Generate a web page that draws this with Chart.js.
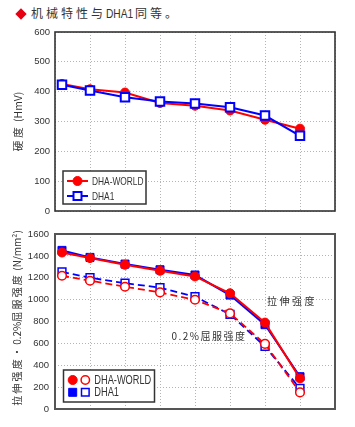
<!DOCTYPE html>
<html><head><meta charset="utf-8">
<script src="https://cdn.jsdelivr.net/npm/chart.js@4"></script>
<style>
body{margin:0;background:#fff;width:355px;height:427px;overflow:hidden;position:relative;font-family:"Noto Sans CJK SC",sans-serif}
#title{position:absolute;left:31px;top:5px;font-size:12px;color:#333;white-space:nowrap;line-height:16px}
#title .cjk{letter-spacing:3px}
#title .lat{font-family:"Liberation Sans",sans-serif;font-size:12px;display:inline-block;transform:scaleX(0.85);transform-origin:left center;margin-right:-3px}
#diamond{position:absolute;left:16.5px;top:9.5px;width:8px;height:8px;background:#e60012;transform:rotate(45deg)}
canvas{position:absolute;left:0}
</style></head>
<body>
<div id="diamond"></div>
<div id="title"><span class="cjk">机械特性与</span><span class="lat">DHA1</span><span class="cjk">同等。</span></div>
<canvas id="c1" width="355" height="222" style="top:0"></canvas>
<canvas id="c2" width="355" height="205" style="top:222px"></canvas>
<script>
// ---- data ----
const samplePositions = [0.2, 1, 2, 3, 4, 5, 6, 7];
const hardnessTicks = [0, 100, 200, 300, 400, 500, 600];
const strengthTicks = [0, 200, 400, 600, 800, 1000, 1200, 1400, 1600];
const seriesNames = ['DHA-WORLD', 'DHA1'];
const hardnessWorld = [426, 408, 397, 362, 353, 337, 306, 276];
const hardnessDha1 = [423, 404, 381, 367, 360, 348, 320, 252];
const tensileWorld = [1431, 1380, 1319, 1264, 1212, 1058, 790, 280];
const tensileDha1 = [1450, 1386, 1325, 1273, 1225, 1042, 771, 295];
const yieldWorld = [1218, 1173, 1118, 1066, 999, 874, 595, 152];
const yieldDha1 = [1254, 1200, 1150, 1110, 1027, 866, 572, 188];
const hardnessAxisTitle = [['硬度', 3], [' (HmV)', 0]];
const strengthAxisTitle = [['拉伸强度・', 2.2], ['0.2%', 0], ['屈服强度', 2.2], [' (N/mm²)', 0]];
const tensileNote = '拉伸强度';
const yieldNote = '0.2%屈服强度';

const RED = '#ff0000', BLUE = '#0000ff';
const CJK = '"Noto Sans CJK SC", sans-serif';
const LAT = '"Liberation Sans", Arial, sans-serif';

function pts(vals) { return vals.map((v, i) => ({ x: samplePositions[i], y: v })); }

function drawSegments(ctx, segs, cx, cy, rotate, size) {
  ctx.save();
  ctx.translate(cx, cy);
  if (rotate) ctx.rotate(-Math.PI / 2);
  ctx.font = size + 'px ' + CJK;
  const widths = segs.map(s => { ctx.letterSpacing = s[1] + 'px'; return ctx.measureText(s[0]).width; });
  const total = widths.reduce((a, b) => a + b, 0);
  let x = -total / 2;
  ctx.textBaseline = 'middle'; ctx.textAlign = 'left'; ctx.fillStyle = '#333';
  segs.forEach((s, i) => { ctx.letterSpacing = s[1] + 'px'; ctx.fillText(s[0], x, 0); x += widths[i]; });
  ctx.restore();
}

function narrowText(ctx, text, x, y, size, sx) {
  ctx.save();
  ctx.translate(x, y);
  ctx.scale(sx, 1);
  ctx.fillStyle = '#333'; ctx.font = size + 'px ' + LAT; ctx.textBaseline = 'middle'; ctx.textAlign = 'left';
  ctx.fillText(text, 0, 0);
  ctx.restore();
}

function marker(ctx, style, x, y, r, fill, stroke, lw) {
  ctx.save();
  ctx.beginPath();
  if (style === 'circle') ctx.arc(x, y, r, 0, Math.PI * 2);
  else ctx.rect(x - r, y - r, 2 * r, 2 * r);
  ctx.fillStyle = fill; ctx.fill();
  ctx.lineWidth = lw; ctx.strokeStyle = stroke; ctx.stroke();
  ctx.restore();
}

function yScale(ticksArr, pad, size) {
  return {
    min: ticksArr[0], max: ticksArr[ticksArr.length - 1],
    afterBuildTicks: s => { s.ticks = ticksArr.map(v => ({ value: v })); },
    afterFit: s => { s.width = 55; },
    grid: { color: '#b4b4b4', lineWidth: 1, drawTicks: false },
    border: { display: false, dash: [1, 2] },
    ticks: { padding: pad, color: '#333', font: { family: LAT, size: size }, callback: v => String(v) }
  };
}
const xScale = {
  type: 'linear', min: 0, max: 8,
  ticks: { display: false, stepSize: 1 },
  afterFit: s => { s.height = 0; },
  grid: { color: '#b4b4b4', lineWidth: 1, drawTicks: false },
  border: { display: false, dash: [1, 2] }
};

// ---- top chart: hardness ----
new Chart(document.getElementById('c1'), {
  type: 'line',
  data: { datasets: [
    { label: seriesNames[1], data: pts(hardnessDha1), borderColor: BLUE, borderWidth: 2,
      pointStyle: 'rect', pointRadius: 6, pointBackgroundColor: '#fff', pointBorderColor: BLUE, pointBorderWidth: 2 },
    { label: seriesNames[0], data: pts(hardnessWorld), borderColor: RED, borderWidth: 2,
      pointStyle: 'circle', pointRadius: 4.5, pointBackgroundColor: RED, pointBorderColor: RED, pointBorderWidth: 1 }
  ] },
  options: {
    responsive: false, animation: false,
    layout: { padding: { left: 0, right: 20, top: 32, bottom: 11 } },
    plugins: { legend: { display: false }, tooltip: { enabled: false } },
    scales: { x: xScale, y: yScale(hardnessTicks, 5, 9.5) }
  },
  plugins: [{
    id: 'deco1',
    afterDraw(chart) {
      const ctx = chart.ctx, a = chart.chartArea;
      ctx.save();
      ctx.lineWidth = 1.6; ctx.strokeStyle = '#333';
      ctx.strokeRect(a.left, a.top, a.right - a.left, a.bottom - a.top);
      // legend
      ctx.fillStyle = '#fff'; ctx.fillRect(63, 171, 83, 33);
      ctx.lineWidth = 1.5; ctx.strokeStyle = '#333'; ctx.strokeRect(63, 171, 83, 33);
      const rows = [[seriesNames[0], RED, 'circle', 181], [seriesNames[1], BLUE, 'rect', 196]];
      rows.forEach(r => {
        ctx.beginPath(); ctx.moveTo(67, r[3]); ctx.lineTo(88, r[3]);
        ctx.lineWidth = 2; ctx.strokeStyle = r[1]; ctx.stroke();
        if (r[2] === 'circle') marker(ctx, 'circle', 77.5, r[3], 4.5, RED, RED, 1);
        else marker(ctx, 'rect', 77.5, r[3], 4, '#fff', BLUE, 2);
        narrowText(ctx, r[0], 92, r[3] + 0.5, 11, 0.76);
      });
      ctx.restore();
      drawSegments(ctx, hardnessAxisTitle, 18, (a.top + a.bottom) / 2, true, 10.5);
    }
  }]
});

// ---- bottom chart: strength ----
new Chart(document.getElementById('c2'), {
  type: 'line',
  data: { datasets: [
    { label: seriesNames[0] + ' tensile', data: pts(tensileWorld), borderColor: RED, borderWidth: 2,
      pointStyle: 'circle', pointRadius: 4.5, pointBackgroundColor: RED, pointBorderColor: RED, pointBorderWidth: 1 },
    { label: seriesNames[0] + ' yield', data: pts(yieldWorld), borderColor: RED, borderWidth: 1.8, borderDash: [7, 4],
      pointStyle: 'circle', pointRadius: 4.3, pointBackgroundColor: '#fff', pointBorderColor: RED, pointBorderWidth: 1.5 },
    { label: seriesNames[1] + ' tensile', data: pts(tensileDha1), borderColor: BLUE, borderWidth: 2,
      pointStyle: 'rect', pointRadius: 5.7, pointBackgroundColor: BLUE, pointBorderColor: BLUE, pointBorderWidth: 1 },
    { label: seriesNames[1] + ' yield', data: pts(yieldDha1), borderColor: BLUE, borderWidth: 1.8, borderDash: [7, 4],
      pointStyle: 'rect', pointRadius: 5.5, pointBackgroundColor: '#fff', pointBorderColor: BLUE, pointBorderWidth: 1.5 }
  ] },
  options: {
    responsive: false, animation: false,
    layout: { padding: { left: 0, right: 20, top: 12, bottom: 18 } },
    plugins: { legend: { display: false }, tooltip: { enabled: false } },
    scales: { x: xScale, y: yScale(strengthTicks, 6, 9.5) }
  },
  plugins: [{
    id: 'deco2',
    afterDraw(chart) {
      const ctx = chart.ctx, a = chart.chartArea, xs = chart.scales.x, ys = chart.scales.y;
      ctx.save();
      ctx.lineWidth = 2; ctx.strokeStyle = '#555';
      ctx.strokeRect(a.left, a.top, a.right - a.left, a.bottom - a.top);
      // legend
      const lx = 63.5, ly = 148, lw = 91, lh = 32;
      ctx.fillStyle = '#fff'; ctx.fillRect(lx, ly, lw, lh);
      ctx.lineWidth = 1.5; ctx.strokeStyle = '#333'; ctx.strokeRect(lx, ly, lw, lh);
      marker(ctx, 'circle', 72.7, 158, 4.5, RED, RED, 1);
      marker(ctx, 'circle', 85.3, 158, 4.2, '#fff', RED, 1.5);
      marker(ctx, 'rect', 72.7, 170.3, 4, BLUE, BLUE, 1);
      marker(ctx, 'rect', 85.3, 170.3, 3.8, '#fff', BLUE, 1.5);
      ctx.restore();
      narrowText(ctx, seriesNames[0], 94.3, 158.5, 12, 0.77);
      narrowText(ctx, seriesNames[1], 94.3, 170.8, 12, 0.77);
      drawSegments(ctx, [[tensileNote, 2.5]], xs.getPixelForValue(6.77), ys.getPixelForValue(990), false, 10);
      drawSegments(ctx, [[yieldNote, 1.5]], xs.getPixelForValue(4.4), ys.getPixelForValue(670), false, 10);
      drawSegments(ctx, strengthAxisTitle, 17.5, 96, true, 10);
    }
  }]
});
</script>
</body></html>
